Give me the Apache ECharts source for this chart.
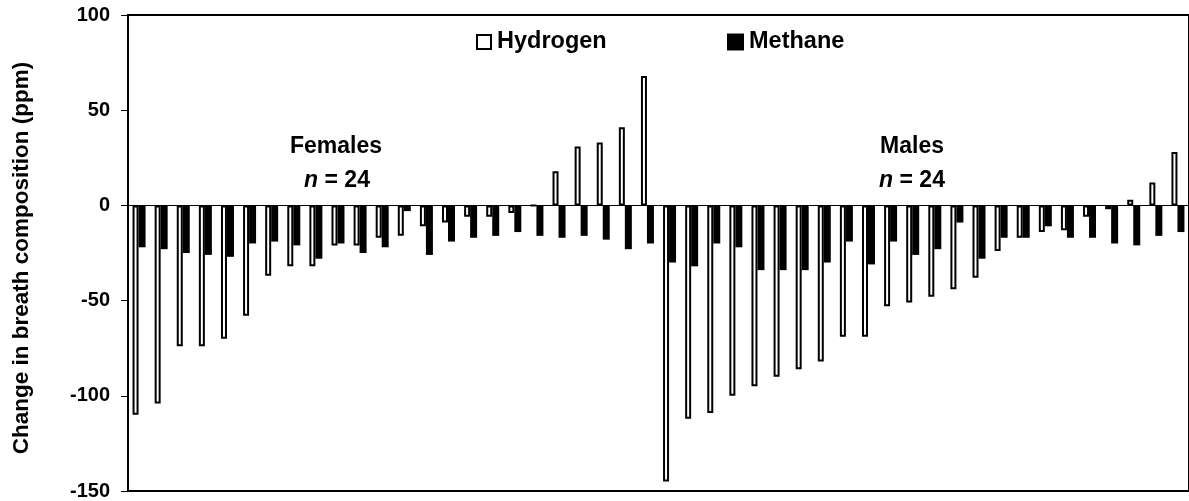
<!DOCTYPE html>
<html>
<head>
<meta charset="utf-8">
<script src="https://cdn.jsdelivr.net/npm/echarts@6/dist/echarts.min.js"></script>
<style>
html,body{margin:0;padding:0;background:#fff;}
#chart{width:1189px;height:501px;}
</style>
</head>
<body>
<div id="chart"></div>
<script>
// Participants (24 females, 24 males)
var femaleIds = ['F1','F2','F3','F4','F5','F6','F7','F8','F9','F10','F11','F12','F13','F14','F15','F16','F17','F18','F19','F20','F21','F22','F23','F24'];
var maleIds = ['M1','M2','M3','M4','M5','M6','M7','M8','M9','M10','M11','M12','M13','M14','M15','M16','M17','M18','M19','M20','M21','M22','M23','M24'];

// Change in breath hydrogen (ppm)
var femaleHydrogen = [-110, -104, -74, -74, -70, -58, -37, -32, -32, -21, -21, -17, -16, -11, -9, -6, -6, -4, 0, 18, 31, 33, 41, 68];
var maleHydrogen = [-145, -112, -109, -100, -95, -90, -86, -82, -69, -69, -53, -51, -48, -44, -38, -24, -17, -14, -13, -6, -2, 3, 12, 28];

// Change in breath methane (ppm)
var femaleMethane = [-22, -23, -25, -26, -27, -20, -19, -21, -28, -20, -25, -22, -3, -26, -19, -17, -16, -14, -16, -17, -16, -18, -23, -20];
var maleMethane = [-30, -32, -20, -22, -34, -34, -34, -30, -19, -31, -19, -26, -23, -9, -28, -17, -17, -11, -17, -17, -20, -21, -16, -14];

// Axis
var yTicks = [-150, -100, -50, 0, 50, 100];
var yTitle = 'Change in breath composition (ppm)';
var seriesNames = ['Hydrogen', 'Methane'];

var FONT = '"Liberation Sans", Arial, sans-serif';
var categories = femaleIds.concat(maleIds);
var hydrogen = femaleHydrogen.concat(maleHydrogen);
var methane = femaleMethane.concat(maleMethane);

var chart = echarts.init(document.getElementById('chart'), null, {renderer: 'canvas'});
chart.setOption({
  animation: false,
  backgroundColor: '#fff',
  textStyle: {fontFamily: FONT},
  grid: {
    left: 128, top: 15, width: 1064, height: 476,
    show: true, borderColor: '#000', borderWidth: 2, backgroundColor: 'transparent'
  },
  legend: [
    {
      left: 476, top: 30, padding: 0, itemWidth: 14, itemHeight: 14, itemGap: 0,
      textStyle: {fontFamily: FONT, fontWeight: 'bold', fontSize: 23.5, color: '#000', padding: [0,0,0,1]},
      data: [{name: seriesNames[0], icon: 'rect', itemStyle: {color: '#fff', borderColor: '#000', borderWidth: 2}}]
    },
    {
      left: 727, top: 30, padding: 0, itemWidth: 17, itemHeight: 17, itemGap: 0,
      textStyle: {fontFamily: FONT, fontWeight: 'bold', fontSize: 23.5, color: '#000', padding: [0,0,0,0]},
      data: [{name: seriesNames[1], icon: 'rect', itemStyle: {color: '#000'}}]
    }
  ],
  xAxis: {
    type: 'category',
    data: categories,
    axisLine: {show: true, onZero: true, lineStyle: {color: '#000', width: 1}},
    axisTick: {show: false},
    axisLabel: {show: false},
    splitLine: {show: false}
  },
  yAxis: {
    type: 'value',
    min: yTicks[0], max: yTicks[yTicks.length - 1], interval: 50,
    name: yTitle,
    nameLocation: 'middle',
    nameGap: 95,
    nameTextStyle: {fontFamily: FONT, fontWeight: 'bold', fontSize: 22.5, color: '#000', padding: [0, 10, 0, 0]},
    axisLine: {show: true, lineStyle: {color: '#000', width: 2}},
    axisTick: {show: true, length: 7, lineStyle: {color: '#000', width: 1}},
    axisLabel: {margin: 18, fontFamily: FONT, fontWeight: 'bold', fontSize: 20, color: '#000'},
    splitLine: {show: false}
  },
  series: [
    {
      name: seriesNames[0], type: 'bar', data: hydrogen,
      barWidth: 6, barGap: '0%',
      itemStyle: {color: '#fff', borderColor: '#000', borderWidth: 2}
    },
    {
      name: seriesNames[1], type: 'bar', data: methane,
      barWidth: 7,
      itemStyle: {color: '#000'}
    }
  ],
  graphic: [
    {type: 'text', x: 336, y: 147, style: {text: 'Females', textAlign: 'center', textVerticalAlign: 'middle', font: 'bold 23px ' + FONT, fill: '#000'}},
    {type: 'text', x: 337, y: 181, style: {text: '{i|n} = 24', textAlign: 'center', textVerticalAlign: 'middle', font: 'bold 23px ' + FONT, fill: '#000',
      rich: {i: {fontStyle: 'italic', fontWeight: 'bold', fontSize: 23, fontFamily: FONT}}}},
    {type: 'text', x: 912, y: 147, style: {text: 'Males', textAlign: 'center', textVerticalAlign: 'middle', font: 'bold 23px ' + FONT, fill: '#000'}},
    {type: 'text', x: 912, y: 181, style: {text: '{i|n} = 24', textAlign: 'center', textVerticalAlign: 'middle', font: 'bold 23px ' + FONT, fill: '#000',
      rich: {i: {fontStyle: 'italic', fontWeight: 'bold', fontSize: 23, fontFamily: FONT}}}}
  ]
});
</script>
</body>
</html>
